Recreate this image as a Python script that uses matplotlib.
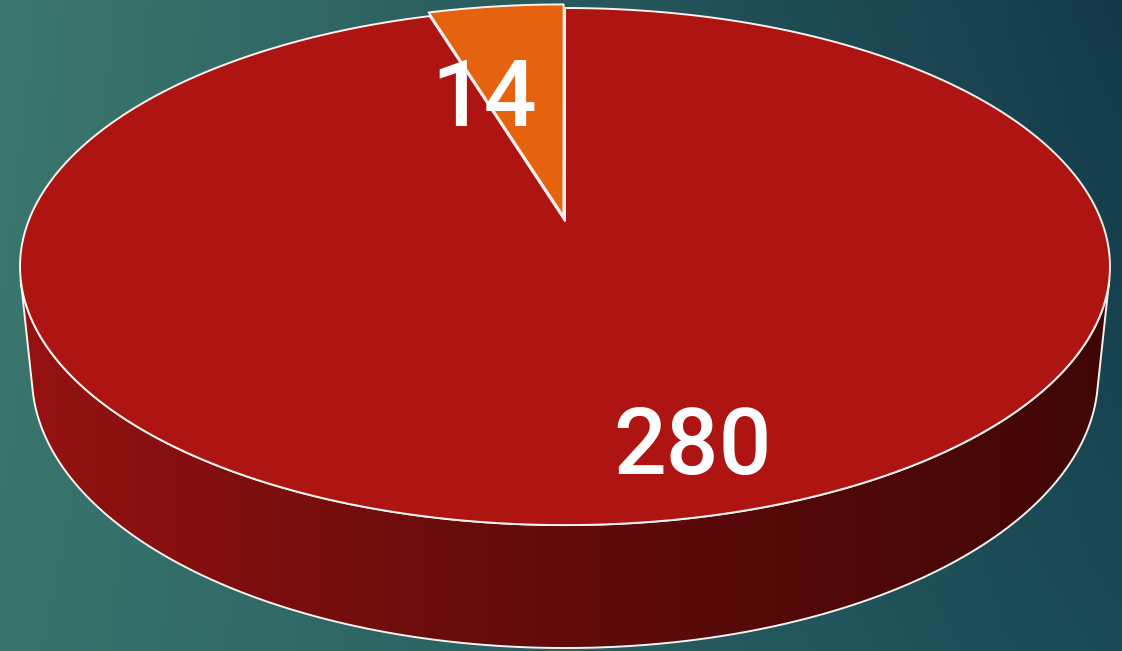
import numpy as np
import matplotlib
matplotlib.use("Agg")
import matplotlib.pyplot as plt
from matplotlib.patches import Polygon

# =============================================================================
# DATA
# =============================================================================
values = [14, 280]
labels = ["14", "280"]
colors = ["#E5620F", "#AD1412"]

# =============================================================================
# STYLE / CAMERA
# =============================================================================
W, H = 1122, 651
CX, CY = 565, 221           # projected pie centre (pixels)
ELEV = np.arcsin(0.467)     # camera tilt
DIST = 5.02                 # camera distance (in pie radii)
FOCAL = 2693.0              # focal length (pixels per radius)
DEPTH = 0.233               # cylinder height (in pie radii)
EXPLODE = [0.02, 0.0]
LABEL_POS = [(1.04, 0.53), (0.518, 0.808)]   # (fraction of slice angle, radius)
EDGE = "#F6F2EE"


def proj(X, Y, Z=0.0):
    c, s = np.cos(ELEV), np.sin(ELEV)
    v = Y * s + Z * c
    w = Y * c - Z * s
    k = FOCAL / (DIST + w)
    return CX + k * X, CY - k * v


def plane(theta, r=1.0):
    # theta in degrees, counter-clockwise from the far side seen from above
    t = np.radians(theta)
    return -r * np.sin(t), r * np.cos(t)


fig = plt.figure(figsize=(W / 100, H / 100), dpi=100)
ax = fig.add_axes([0, 0, 1, 1])
ax.set_xlim(0, W)
ax.set_ylim(H, 0)
ax.axis("off")

# --- background gradient ---
tl, tr = np.array([60, 120, 110]), np.array([20, 58, 74])
bl, br = np.array([56, 116, 108]), np.array([26, 74, 86])
gx = np.linspace(0, 1, 200)[None, :, None]
gy = np.linspace(0, 1, 120)[:, None, None]
bg = (tl * (1 - gx) * (1 - gy) + tr * gx * (1 - gy) + bl * (1 - gx) * gy + br * gx * gy) / 255
ax.imshow(bg, extent=(0, W, H, 0), aspect="auto", zorder=0, interpolation="bilinear")

# --- side wall (front half of the cylinder) ---
# silhouette rulings: where the cylinder normal is perpendicular to the view ray
y_sil = -1.0 / (DIST * np.cos(ELEV))
th_sil = np.degrees(np.arccos(y_sil))
top_arc = np.linspace(th_sil, 360 - th_sil, 400)
sx1, sy1 = proj(*plane(top_arc))
sx2, sy2 = proj(*plane(top_arc[::-1]), -DEPTH)
side_pts = np.column_stack([np.concatenate([sx1, sx2]), np.concatenate([sy1, sy2])])
side = Polygon(side_pts, closed=True, facecolor="none", edgecolor=EDGE, linewidth=1.4, zorder=3)
ax.add_patch(side)

stops = np.array([0.0, 0.4, 1.0])
stop_cols = np.array([[150, 18, 18], [105, 12, 12], [64, 6, 6]]) / 255
xs = np.linspace(0, 1, 400)
grad = np.stack([np.interp(xs, stops, stop_cols[:, i]) for i in range(3)], axis=-1)[None, :, :]
x0, x1 = side_pts[:, 0].min(), side_pts[:, 0].max()
y0, y1 = side_pts[:, 1].min(), side_pts[:, 1].max()
im = ax.imshow(grad, extent=(x0, x1, y1, y0), aspect="auto", zorder=2, interpolation="bilinear")
im.set_clip_path(Polygon(side_pts, closed=True, transform=ax.transData))

# --- top faces ---
total = sum(values)
start = 0.0
for i, val in enumerate(values):
    span = 360.0 * val / total
    mid = start + span / 2
    ox, oy = plane(mid, EXPLODE[i])
    arc = np.linspace(start, start + span, 300)
    ax_, ay_ = plane(arc)
    X = np.concatenate([[0.0], ax_]) + ox
    Y = np.concatenate([[0.0], ay_]) + oy
    px, py = proj(X, Y)
    ax.add_patch(Polygon(np.column_stack([px, py]), closed=True, facecolor=colors[i],
                         edgecolor=EDGE, linewidth=1.4, joinstyle="round", zorder=4 + i))

    frac, rad = LABEL_POS[i]
    lx, ly = plane(start + frac * span, rad)
    lx, ly = proj(lx + ox, ly + oy)
    ax.text(lx, ly, labels[i], color="white", fontsize=67, fontweight="medium",
            ha="center", va="center", family=["Roboto", "DejaVu Sans"], zorder=10)
    start += span

fig.savefig("out.png", dpi=100)
